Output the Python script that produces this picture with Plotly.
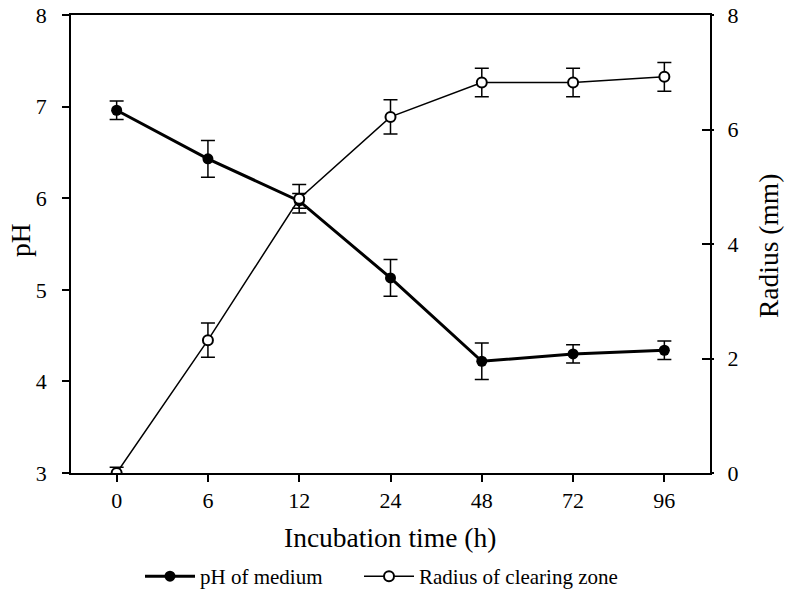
import plotly.graph_objects as go

times = ["0", "6", "12", "24", "48", "72", "96"]
ph = [6.96, 6.43, 5.97, 5.13, 4.22, 4.30, 4.34]
ph_err = [0.10, 0.20, 0.08, 0.20, 0.20, 0.10, 0.10]
radius = [0.0, 2.32, 4.79, 6.22, 6.82, 6.82, 6.92]
radius_err = [0.10, 0.30, 0.25, 0.30, 0.25, 0.25, 0.25]

FONT = "Liberation Serif"
W, H = 786, 590
L, T = 71, 15
RX, BY = 710, 473
R, B = W - RX, H - BY
PW, PH = RX - L, BY - T


def px(xs):
    return (xs - L) / PW


def py(ys):
    return (BY - ys) / PH


fig = go.Figure()
fig.add_trace(go.Scatter(
    x=times, y=radius, name="Radius of clearing zone", yaxis="y2", legend="legend2",
    mode="lines+markers",
    line=dict(color="black", width=1.5),
    marker=dict(symbol="circle", size=10, color="white", line=dict(color="black", width=2)),
    error_y=dict(type="data", array=radius_err, visible=True, color="black", thickness=1.5, width=7),
))
fig.add_trace(go.Scatter(
    x=times, y=ph, name="pH of medium", legend="legend",
    mode="lines+markers",
    line=dict(color="black", width=3),
    marker=dict(symbol="circle", size=11, color="black"),
    error_y=dict(type="data", array=ph_err, visible=True, color="black", thickness=1.5, width=7),
))
# invisible trace to keep the outer right tick axis rendered
fig.add_trace(go.Scatter(x=times, y=radius, yaxis="y3", mode="markers",
                         marker=dict(opacity=0), showlegend=False, hoverinfo="skip"))

legend_common = dict(orientation="h", xanchor="left", y=py(556), yanchor="top",
                     itemwidth=50, font=dict(family=FONT, size=21),
                     bgcolor="rgba(0,0,0,0)")

fig.update_layout(
    width=W, height=H,
    margin=dict(l=L, r=R, t=T, b=B, autoexpand=False),
    paper_bgcolor="white", plot_bgcolor="white",
    font=dict(family=FONT, color="black", size=22),
    showlegend=True,
    legend=dict(x=px(140), **legend_common),
    legend2=dict(x=px(359), **legend_common),
    xaxis=dict(
        type="category", range=[-0.5, 6.5], automargin=False,
        showline=True, linecolor="black", linewidth=1.5, mirror=True,
        ticks="outside", ticklen=7, tickcolor="black", tickwidth=1.5,
        ticklabelstandoff=0,
        showgrid=False, zeroline=False,
        tickfont=dict(size=22),
    ),
    yaxis=dict(
        range=[3, 8], dtick=1, automargin=False,
        showline=True, linecolor="black", linewidth=1.5,
        ticks="outside", ticklen=7, tickcolor="black", tickwidth=1.5,
        ticklabelstandoff=11, ticklabeloverflow="allow",
        showgrid=False, zeroline=False,
        tickfont=dict(size=22),
    ),
    yaxis2=dict(
        range=[0, 8], dtick=2, overlaying="y", side="right", automargin=False,
        showline=True, linecolor="black", linewidth=1.5,
        ticks="inside", ticklen=8, tickcolor="black", tickwidth=1.5,
        showgrid=False, zeroline=False,
        showticklabels=False,
    ),
    yaxis3=dict(
        range=[0, 8], dtick=2, overlaying="y", side="right", automargin=False,
        showline=False, anchor="x",
        ticks="outside", ticklen=3, tickcolor="black", tickwidth=1.5,
        ticklabelstandoff=9, ticklabeloverflow="allow",
        showgrid=False, zeroline=False,
        tickfont=dict(size=22),
    ),
)

fig.add_annotation(text="Incubation time (h)", xref="paper", yref="paper",
                   x=px(390), y=py(537), xanchor="center", yanchor="middle",
                   showarrow=False, font=dict(size=27.5))
fig.add_annotation(text="pH", xref="paper", yref="paper",
                   x=px(20), y=py(240), xanchor="center", yanchor="middle",
                   textangle=-90, showarrow=False, font=dict(size=27.5))
fig.add_annotation(text="Radius (mm)", xref="paper", yref="paper",
                   x=px(768), y=py(246), xanchor="center", yanchor="middle",
                   textangle=-90, showarrow=False, font=dict(size=27.5))

fig.write_html("out.html", config={"displayModeBar": False},
               post_script="document.body.style.margin='0';document.body.style.overflow='hidden';")
